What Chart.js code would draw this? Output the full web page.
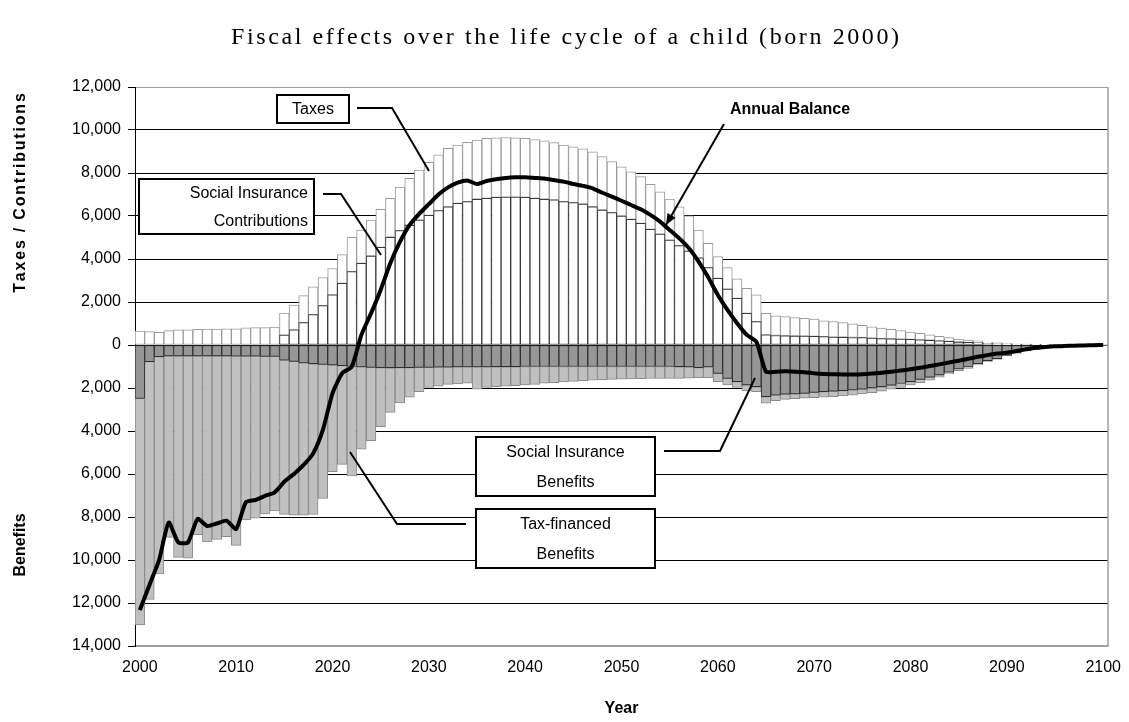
<!DOCTYPE html>
<html>
<head>
<meta charset="utf-8">
<title>Fiscal effects over the life cycle of a child</title>
<script src="https://cdn.jsdelivr.net/npm/chart.js@4.4.0/dist/chart.umd.min.js"></script>
<style>
  html, body { margin: 0; padding: 0; background: #fff; }
</style>
</head>
<body>
<canvas id="myChart" width="1129" height="722"></canvas>
<script>
// years on the x axis, one bar per year
var years = [];
for (var yr = 2000; yr <= 2100; yr++) years.push(String(yr));
var yearTicks = [2000, 2010, 2020, 2030, 2040, 2050, 2060, 2070, 2080, 2090, 2100];
var valueTicks = [12000, 10000, 8000, 6000, 4000, 2000, 0, -2000, -4000, -6000, -8000, -10000, -12000, -14000];

// Social insurance contributions (lower white part)
var contributions = [0,0,0,0,0,0,0,0,0,0, 0,0,0,0,0,460,700,1040,1410,1830,
  2330,2870,3410,3800,4140,4540,5010,5320,5570,5810, 6030,6250,6430,6590,6670,6780,6820,6870,6880,6880,
  6870,6820,6780,6750,6670,6620,6560,6430,6280,6160, 6000,5840,5660,5380,5160,4880,4620,4370,4050,3600,
  3100,2600,2170,1470,1090,470,440,430,420,410, 400,390,370,360,350,340,320,300,290,270,
  260,240,220,190,170,140,120,100,80,60, 40,30,20,15,10,8,5,4,3,2, 1];
// Taxes (upper white part)
var taxes = [650,620,590,670,700,710,730,740,740,750, 750,800,810,810,830,1020,1160,1260,1300,1310,
  1230,1330,1600,1550,1670,1770,1810,2020,2180,2330, 2470,2590,2720,2710,2760,2750,2790,2770,2770,2760,
  2740,2740,2720,2660,2630,2600,2560,2560,2480,2370, 2290,2220,2170,2090,1970,1910,1810,1640,1300,1130,
  1010,1000,910,1170,1240,1000,920,890,850,830, 800,740,720,680,630,570,530,490,440,400,
  340,300,250,210,170,140,110,90,60,50, 40,30,20,15,10,7,5,4,2,1, 1];
// Social insurance benefits (dark grey)
var siBenefits = [-2480,-775,-540,-510,-510,-510,-510,-510,-510,-510, -520,-520,-520,-530,-530,-700,-760,-830,-870,-900,
  -930,-960,-1000,-1020,-1040,-1050,-1060,-1050,-1050,-1040, -1040,-1030,-1030,-1020,-1020,-1020,-1020,-1010,-1010,-1010,
  -1000,-1000,-1000,-1000,-1000,-1000,-1000,-1000,-1000,-1000, -1000,-1000,-1000,-1000,-1000,-1000,-1010,-1020,-1050,-1020,
  -1320,-1550,-1700,-1860,-1940,-2400,-2330,-2290,-2270,-2250, -2200,-2170,-2150,-2120,-2090,-2050,-2000,-1940,-1870,-1790,
  -1700,-1600,-1500,-1390,-1260,-1110,-1020,-870,-730,-630, -480,-370,-265,-190,-125,-75,-48,-28,-18,-10, -4];
// Tax-financed benefits (light grey)
var taxBenefits = [-10540,-11055,-10110,-8440,-9370,-9410,-8310,-8650,-8530,-8400, -8800,-7620,-7540,-7330,-7190,-7180,-7160,-7090,-7010,-6230,
  -4960,-4590,-5090,-3820,-3410,-2750,-2070,-1640,-1380,-1130, -930,-880,-800,-790,-760,-1030,-950,-930,-900,-880,
  -860,-830,-780,-750,-720,-690,-660,-630,-610,-600, -590,-580,-570,-560,-560,-550,-540,-520,-470,-500,
  -380,-310,-270,-280,-230,-310,-260,-240,-230,-220, -250,-260,-250,-250,-240,-230,-220,-210,-190,-180,
  -160,-150,-130,-110,-90,-80,-70,-60,-50,-40, -30,-20,-15,-10,-5,-5,-2,-2,-2,-2, -1];
// Annual balance (black line)
var balance = [-12330,-11160,-10000,-8260,-9180,-9180,-8090,-8420,-8300,-8170, -8560,-7320,-7210,-7020,-6850,-6360,-6000,-5580,-5040,-3950,
  -2250,-1320,-1010,470,1470,2560,3800,4800,5580,6100, 6550,7000,7330,7550,7650,7490,7630,7710,7770,7800,
  7800,7770,7740,7670,7600,7490,7400,7290,7080,6900, 6710,6510,6310,6050,5740,5350,4960,4500,3880,3150,
  2330,1630,1010,470,150,-1240,-1240,-1220,-1240,-1270, -1320,-1350,-1360,-1370,-1370,-1360,-1330,-1290,-1240,-1190,
  -1130,-1060,-980,-900,-810,-730,-640,-550,-470,-400, -360,-280,-200,-130,-90,-60,-50,-30,-20,-10, 0];

var FONT = '"Liberation Sans", Arial, sans-serif';

// boxed labels with leader lines (pixel layout)
var callouts = [
  { lines: ['Taxes'], box: [277, 95, 349, 123], align: 'center', path: [[357,108],[392,108],[429,171]] },
  { lines: ['Social Insurance', 'Contributions'], box: [139, 179, 314, 234], align: 'right', path: [[323,194],[341,194],[381,255]] },
  { lines: ['Social Insurance', 'Benefits'], box: [476, 437, 655, 496], align: 'center', path: [[664,451],[720,451],[755,378]] },
  { lines: ['Tax-financed', 'Benefits'], box: [476, 509, 655, 568], align: 'center', path: [[466,524],[397,524],[350,452]] }
];

// text drawn one glyph at a time with extra spacing
function spacedText(c, str, cx, cy, gap) {
  var w = 0, i;
  for (i = 0; i < str.length; i++) w += c.measureText(str[i]).width + (i < str.length - 1 ? gap : 0);
  var x = cx - w / 2;
  c.textAlign = 'left';
  for (i = 0; i < str.length; i++) {
    c.fillText(str[i], x, cy);
    x += c.measureText(str[i]).width + gap;
  }
}

var decor = {
  id: 'decor',
  afterDraw: function(chart) {
    var c = chart.ctx, a = chart.chartArea;
    c.save();
    // right side of the plot frame
    c.strokeStyle = '#a0a0a0';
    c.lineWidth = 1.5;
    c.beginPath();
    c.moveTo(a.right, a.top);
    c.lineTo(a.right, a.bottom);
    c.stroke();

    // title
    c.fillStyle = '#000';
    c.textBaseline = 'middle';
    c.font = '24px "Liberation Serif", "Times New Roman", serif';
    spacedText(c, 'Fiscal effects over the life cycle of a child (born 2000)', 565, 38, 2.6);

    // axis titles
    c.textAlign = 'center';
    c.font = 'bold 16px ' + FONT;
    c.fillText('Year', (a.left + a.right) / 2, 709);
    c.save();
    c.translate(21, 193);
    c.rotate(-Math.PI / 2);
    spacedText(c, 'Taxes / Contributions', 0, 0, 1.8);
    c.restore();
    c.save();
    c.translate(21, 545);
    c.rotate(-Math.PI / 2);
    c.textAlign = 'center';
    c.fillText('Benefits', 0, 0);
    c.restore();

    // callouts
    c.lineWidth = 2;
    c.strokeStyle = '#000';
    callouts.forEach(function(o) {
      var b = o.box;
      c.fillStyle = '#fff';
      c.fillRect(b[0], b[1], b[2] - b[0], b[3] - b[1]);
      c.strokeRect(b[0], b[1], b[2] - b[0], b[3] - b[1]);
      c.fillStyle = '#000';
      c.font = '16px ' + FONT;
      c.textAlign = o.align;
      var tx = o.align === 'right' ? b[2] - 6 : (b[0] + b[2]) / 2;
      var h = (b[3] - b[1]) / o.lines.length;
      o.lines.forEach(function(t, i) {
        c.fillText(t, tx, b[1] + h * (i + 0.5) + 1);
      });
      c.beginPath();
      c.moveTo(o.path[0][0], o.path[0][1]);
      for (var i = 1; i < o.path.length; i++) c.lineTo(o.path[i][0], o.path[i][1]);
      c.stroke();
    });

    // Annual Balance label and arrow
    c.font = 'bold 16px ' + FONT;
    c.textAlign = 'left';
    c.fillText('Annual Balance', 730, 110);
    var x0 = 724, y0 = 124, x1 = 666, y1 = 225;
    c.beginPath();
    c.moveTo(x0, y0);
    c.lineTo(x1, y1);
    c.stroke();
    var ang = Math.atan2(y1 - y0, x1 - x0);
    c.beginPath();
    c.moveTo(x1, y1);
    c.lineTo(x1 - 12 * Math.cos(ang - 0.4), y1 - 12 * Math.sin(ang - 0.4));
    c.lineTo(x1 - 12 * Math.cos(ang + 0.4), y1 - 12 * Math.sin(ang + 0.4));
    c.closePath();
    c.fill();
    c.restore();
  }
};

var ctx = document.getElementById('myChart');
var myChart = new Chart(ctx, {
  type: 'bar',
  data: {
    labels: years,
    datasets: [
      {
        label: 'Social Insurance Contributions',
        data: contributions,
        backgroundColor: '#ffffff',
        borderColor: '#3a3a3a',
        borderWidth: 1,
        borderSkipped: false,
        stack: 'flows',
        order: 1
      },
      {
        label: 'Taxes',
        data: taxes,
        backgroundColor: '#ffffff',
        borderColor: '#9a9a9a',
        borderWidth: 1,
        borderSkipped: false,
        stack: 'flows',
        order: 1
      },
      {
        label: 'Social Insurance Benefits',
        data: siBenefits,
        backgroundColor: '#969696',
        borderColor: '#303030',
        borderWidth: 1,
        borderSkipped: false,
        stack: 'flows',
        order: 1
      },
      {
        label: 'Tax-financed Benefits',
        data: taxBenefits,
        backgroundColor: '#c0c0c0',
        borderColor: '#8a8a8a',
        borderWidth: 1,
        borderSkipped: false,
        stack: 'flows',
        order: 1
      },
      {
        type: 'line',
        label: 'Annual Balance',
        data: balance,
        borderColor: '#000',
        borderWidth: 4,
        pointRadius: 0,
        tension: 0.2,
        fill: false,
        stack: 'line',
        order: 0
      }
    ]
  },
  options: {
    responsive: false,
    animation: false,
    layout: { padding: { left: 0, right: 21, top: 87, bottom: 0 } },
    plugins: { legend: { display: false }, tooltip: { enabled: false }, title: { display: false } },
    datasets: { bar: { categoryPercentage: 1, barPercentage: 1 } },
    scales: {
      x: {
        stacked: true,
        offset: true,
        grid: { display: false, drawTicks: false },
        border: { display: true, color: '#a0a0a0', width: 1.5 },
        ticks: {
          autoSkip: false,
          maxRotation: 0,
          padding: 12,
          color: '#000',
          font: { family: FONT, size: 16 },
          callback: function(v, i) {
            var y = Number(years[i]);
            return yearTicks.indexOf(y) >= 0 ? String(y) : null;
          }
        },
        // fixed height, and no extra room for the last label
        afterFit: function(s) { s.height = 76; s.paddingLeft = 0; s.paddingRight = 0; }
      },
      y: {
        stacked: true,
        min: -14000,
        max: 12000,
        afterBuildTicks: function(s) { s.ticks = valueTicks.map(function(v) { return { value: v }; }); },
        grid: {
          color: function(c) {
            var v = c.tick ? c.tick.value : 0;
            return (v === 12000 || v === -14000) ? '#a0a0a0' : '#000';
          },
          lineWidth: 1,
          tickLength: 7,
          tickColor: '#000'
        },
        border: { display: true, color: '#000', width: 1 },
        ticks: {
          padding: 7,
          color: '#000',
          font: { family: FONT, size: 16 },
          callback: function(v) { return Math.abs(v).toLocaleString('en-US'); }
        },
        afterFit: function(s) { s.width = 135; }
      }
    }
  },
  plugins: [decor]
});
</script>
</body>
</html>
